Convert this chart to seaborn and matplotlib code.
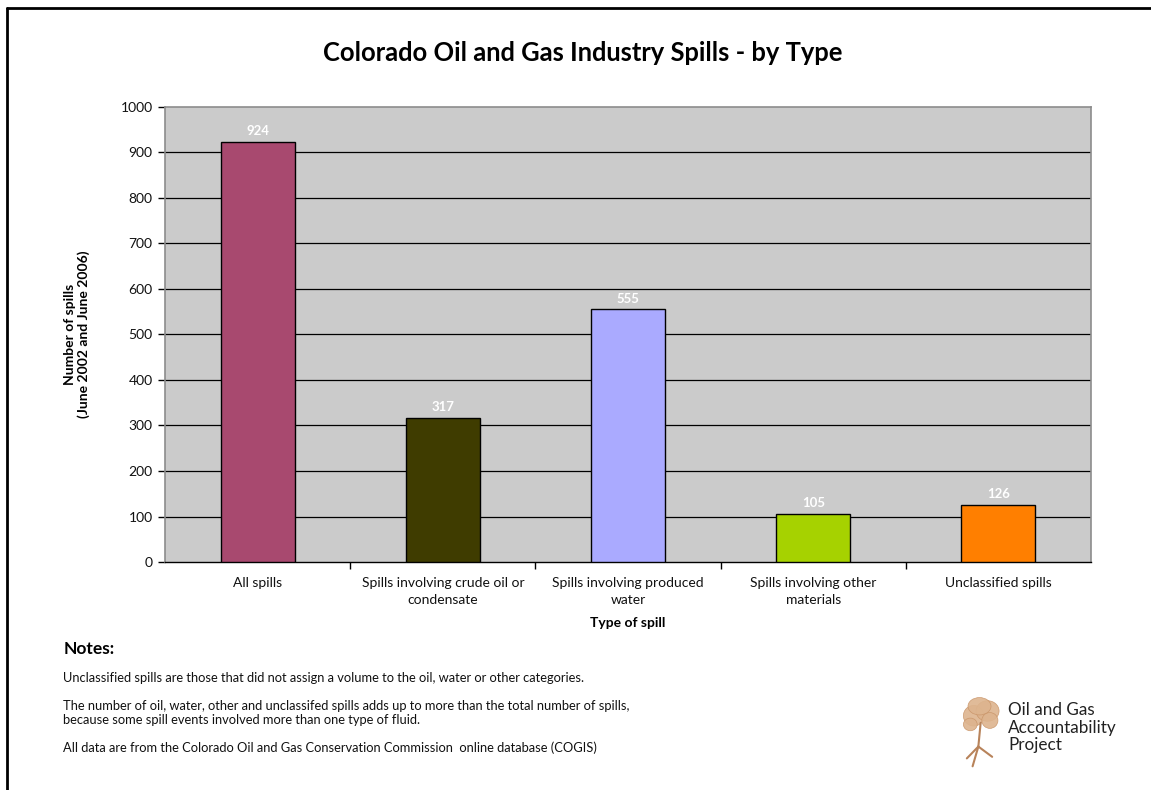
import matplotlib
matplotlib.use("Agg")
import matplotlib.pyplot as plt
from matplotlib.patches import Ellipse
from matplotlib.lines import Line2D
import seaborn as sns
import pandas as pd

categories = [
    "All spills",
    "Spills involving crude oil or\ncondensate",
    "Spills involving produced\nwater",
    "Spills involving other\nmaterials",
    "Unclassified spills",
]
spill_counts = [924, 317, 555, 105, 126]
bar_colors = ["#A8496F", "#3F3C00", "#AAAAFF", "#A6D200", "#FF7F00"]
y_ticks = [0, 100, 200, 300, 400, 500, 600, 700, 800, 900, 1000]

notes = [
    "Unclassified spills are those that did not assign a volume to the oil, water or other categories.",
    "The number of oil, water, other and unclassifed spills adds up to more than the total number of spills,\n"
    "because some spill events involved more than one type of fluid.",
    "All data are from the Colorado Oil and Gas Conservation Commission  online database (COGIS)",
]

sns.set_theme(style="white")
plt.rcParams["font.family"] = ["Lato", "DejaVu Sans"]
plt.rcParams["text.color"] = "black"
plt.rcParams["axes.labelcolor"] = "black"
plt.rcParams["xtick.color"] = "black"
plt.rcParams["ytick.color"] = "black"

df = pd.DataFrame({"type": categories, "count": spill_counts})

fig = plt.figure(figsize=(11.51, 7.90), dpi=100)
ax = fig.add_axes([0.1434, 0.2886, 0.8045, 0.576])
ax.set_facecolor("#CBCBCB")

sns.barplot(data=df, x="type", y="count", hue="type", palette=bar_colors,
            saturation=1, width=0.4, edgecolor="black", linewidth=1.0,
            legend=False, ax=ax, zorder=3)

ax.set_ylim(0, 1000)
ax.set_xlim(-0.5, len(categories) - 0.5)
ax.set_yticks(y_ticks)
ax.set_yticklabels([str(v) for v in y_ticks], fontsize=10)
for v in y_ticks[1:-1]:
    ax.axhline(v, color="black", linewidth=0.9, zorder=1)

ax.tick_params(axis="y", which="major", length=5, width=1, color="black",
               labelcolor="#111111", direction="out", left=True, pad=4)
ax.tick_params(axis="x", which="major", length=0, labelsize=10, pad=11,
               labelcolor="#111111")
ax.set_xticks(range(len(categories)))
ax.set_xticklabels(categories, fontsize=10, linespacing=1.5)
ax.set_xticks([i + 0.5 for i in range(len(categories) - 1)], minor=True)
ax.tick_params(axis="x", which="minor", length=5, width=1, color="black",
               direction="out", bottom=True)

for side in ["top", "right", "left"]:
    ax.spines[side].set_color("#8C8C8C")
    ax.spines[side].set_linewidth(1.2)
ax.spines["bottom"].set_color("black")
ax.spines["bottom"].set_linewidth(1.0)

for i, v in enumerate(spill_counts):
    ax.text(i, v + 24, str(v), ha="center", va="center", color="white",
            fontsize=9.5, fontweight="bold", zorder=4)

ax.set_xlabel("Type of spill", fontsize=10, fontweight="bold", labelpad=8)
ax.set_ylabel("Number of spills\n(June 2002 and June 2006)", fontsize=10,
              fontweight="bold", labelpad=22, linespacing=1.1)

fig.text(0.506, 0.933, "Colorado Oil and Gas Industry Spills - by Type",
         ha="center", va="center", fontsize=18.4, fontweight="bold")

# notes block
fig.text(0.055, 0.179, "Notes:", fontsize=12.5, fontweight="bold", va="center")
fig.text(0.055, 0.142, notes[0], fontsize=9.25, va="center", color="#111111")
fig.text(0.055, 0.098, notes[1], fontsize=9.25, va="center", linespacing=1.2,
         color="#111111")
fig.text(0.055, 0.053, notes[2], fontsize=9.25, va="center", color="#111111")

# organisation mark: text and a small tree emblem
fig.text(0.876, 0.079, "Oil and Gas\nAccountability\nProject", fontsize=12.3,
         va="center", ha="left", linespacing=1.12, color="#222222")
crown = [(0.846, 0.094, 0.018, 0.026), (0.858, 0.100, 0.020, 0.026),
         (0.851, 0.106, 0.020, 0.022), (0.860, 0.088, 0.014, 0.020),
         (0.843, 0.083, 0.012, 0.016)]
for cx, cy, w, h in crown:
    fig.patches.append(Ellipse((cx, cy), w, h, transform=fig.transFigure,
                               facecolor="#DDB48E", edgecolor="#C99468",
                               linewidth=0.5, alpha=0.9, figure=fig))
for xs, ys in [([0.852, 0.850], [0.085, 0.055]),
               ([0.850, 0.840], [0.055, 0.040]),
               ([0.850, 0.862], [0.055, 0.042]),
               ([0.850, 0.845], [0.055, 0.030])]:
    fig.lines.append(Line2D(xs, ys, transform=fig.transFigure,
                            color="#B8835A", linewidth=1.5, figure=fig))

# page frame along the top and left edges
fig.lines.append(Line2D([0.006, 1.0], [0.990, 0.990], transform=fig.transFigure,
                        color="black", linewidth=2, figure=fig))
fig.lines.append(Line2D([0.006, 0.006], [0.0, 0.990], transform=fig.transFigure,
                        color="black", linewidth=2, figure=fig))

fig.savefig("out.png", dpi=100, facecolor="white")
